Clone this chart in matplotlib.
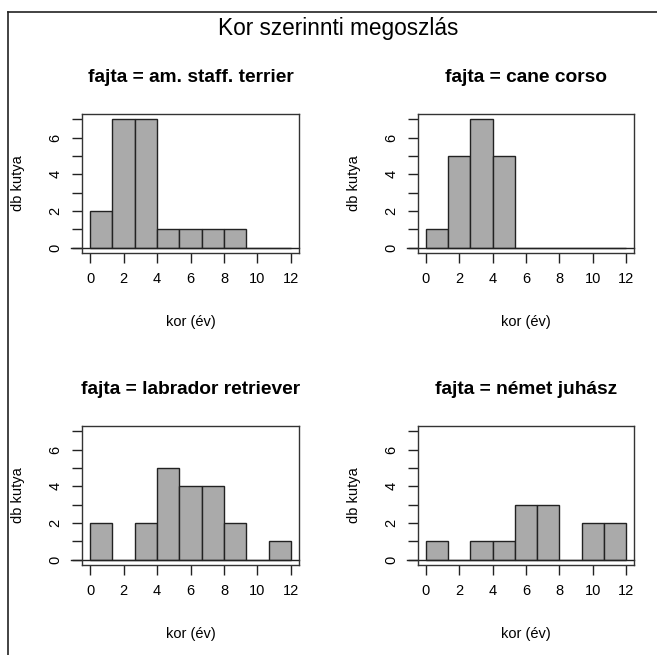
import matplotlib
matplotlib.use("Agg")
import matplotlib.pyplot as plt
import numpy as np
from matplotlib.lines import Line2D

plt.rcParams['font.family'] = ['Liberation Sans', 'DejaVu Sans']

breeds = ["am. staff. terrier", "cane corso", "labrador retriever", "német juhász"]
bin_edges = [0, 4/3, 8/3, 4, 16/3, 20/3, 8, 28/3, 32/3, 12]
counts_staff = [2, 7, 7, 1, 1, 1, 1, 0, 0]
counts_cane = [1, 5, 7, 5, 0, 0, 0, 0, 0]
counts_labrador = [2, 0, 2, 5, 4, 4, 2, 0, 1]
counts_juhasz = [1, 0, 1, 1, 3, 3, 0, 2, 2]
all_counts = [counts_staff, counts_cane, counts_labrador, counts_juhasz]
main_title = "Kor szerinnti megoszlás"
xlabel = "kor (év)"
ylabel = "db kutya"
xticks = [0, 2, 4, 6, 8, 10, 12]
yticks = [0, 1, 2, 3, 4, 5, 6, 7]
ytick_labels = ["0", "", "2", "", "4", "", "6", ""]

W, H = 657, 655
fig = plt.figure(figsize=(W / 100, H / 100), dpi=100)

# axes boxes in pixels: (left, top, right, bottom)
boxes = [(82, 114, 299, 253), (418, 114, 634, 253),
         (82, 426, 299, 565), (418, 426, 634, 565)]

fs = 10.5
for counts, breed, (l, t, r, b) in zip(all_counts, breeds, boxes):
    ax = fig.add_axes([l / W, 1 - b / H, (r - l) / W, (b - t) / H])
    edges = np.array(bin_edges)
    widths = np.diff(edges)
    ax.bar(edges[:-1], counts, width=widths, align='edge',
           color='#aaaaaa', edgecolor='#222222', linewidth=1.0)
    ax.axhline(0, color='#222222', lw=1.0, xmin=-0.05, clip_on=False)
    ax.set_xlim(-0.48, 12.48)
    ax.set_ylim(-0.28, 7.28)
    ax.set_xticks(xticks)
    ax.set_xticklabels([str(v) for v in xticks])
    ax.set_yticks(yticks)
    ax.set_yticklabels(ytick_labels, rotation=90, va='center')
    ax.tick_params(axis='both', length=7, width=1.0, color='#222222',
                   labelsize=fs, pad=7)
    for sp in ax.spines.values():
        sp.set_color('#333333')
        sp.set_linewidth(1.0)
    cx = (l + r) / 2
    fig.text(cx / W, 1 - (t - 36) / H, f"fajta = {breed}", ha='center', va='center',
             fontsize=13.8, fontweight='bold')
    fig.text(cx / W, 1 - (b + 69) / H, xlabel, ha='center', va='center',
             fontsize=fs)
    fig.text((l - 64) / W, 1 - ((t + b) / 2) / H, ylabel, ha='center',
             va='center', rotation=90, fontsize=fs)

fig.text(338 / W, 1 - 28 / H, main_title, ha='center', va='center', fontsize=16.3)

# outer frame (left and top lines)
fig.add_artist(Line2D([8 / W, 8 / W], [0, 1 - 12 / H], transform=fig.transFigure,
                      color='#222222', lw=1.2))
fig.add_artist(Line2D([8 / W, 1], [1 - 12 / H, 1 - 12 / H], transform=fig.transFigure,
                      color='#222222', lw=1.2))

fig.savefig("out.png", dpi=100)
